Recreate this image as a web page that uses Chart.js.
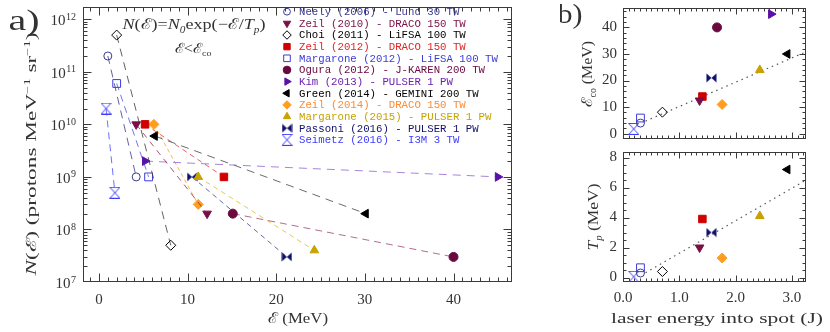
<!DOCTYPE html>
<html><head><meta charset="utf-8">
<script src="https://cdn.jsdelivr.net/npm/chart.js@4.4.1/dist/chart.umd.min.js"></script>
<style>
html,body{margin:0;padding:0;background:#fff;width:830px;height:332px;overflow:hidden}
canvas{position:absolute;display:block}
</style></head><body>
<canvas id="ca" width="530" height="332" style="left:0;top:0"></canvas>
<canvas id="cb1" width="270" height="145" style="left:560px;top:0"></canvas>
<canvas id="cb2" width="270" height="187" style="left:560px;top:145px"></canvas>
<script>
// ---------------- data ----------------
const seriesLabels = [
  'Neely (2006) - Lund 30 TW',
  'Zeil (2010) - DRACO 150 TW',
  'Choi (2011) - LiFSA 100 TW',
  'Zeil (2012) - DRACO 150 TW',
  'Margarone (2012) - LiFSA 100 TW',
  'Ogura (2012) - J-KAREN 200 TW',
  'Kim (2013) - PULSER 1 PW',
  'Green (2014) - GEMINI 200 TW',
  'Zeil (2014) - DRACO 150 TW',
  'Margarone (2015) - PULSER 1 PW',
  'Passoni (2016) - PULSER 1 PW',
  'Seimetz (2016) - I3M 3 TW'
];
const energyStart  = [1.0, 4.2, 2.0, 5.2, 2.0, 15.1, 5.2, 6.3, 6.2, 11.2, 10.5, 0.8];
const countStart   = [2e11, 1e10, 5e11, 1e10, 6e10, 2e8, 2e9, 6e9, 1e10, 1e9, 1e9, 2e10];
const energyEnd    = [4.2, 12.2, 8.1, 14.1, 5.6, 40, 45, 30.1, 11.2, 24.3, 21.2, 1.8];
const countEnd     = [1e9, 2e8, 5e7, 1e9, 1e9, 3e7, 1e9, 2e8, 3e8, 4e7, 3e7, 5e8];
const laserEnergy  = [0.31, 1.36, 0.70, 1.41, 0.31, 1.67, 2.63, 2.92, 1.76, 2.43, 1.57, 0.19];
const cutoffEnergy = [4.0, 12.5, 8.1, 14.0, 5.9, 40, 45, 30, 11, 24, 21, 1.8];
const protonTemp   = [0.3, 2.0, 0.4, 3.9, 0.65, null, null, 7.2, 1.3, 4.1, 3.0, 0.05];
const fitLaserE    = [0.4, 3.25];
const fitCutoff    = [4.75, 30.8];
const fitTemp      = [0.32, 6.5];
const xTicksA  = [0, 10, 20, 30, 40];
const yTicksA  = [1e7, 1e8, 1e9, 1e10, 1e11, 1e12];
const xTicksB  = [0, 1, 2, 3];
const yTicksB1 = [0, 10, 20, 30, 40];
const yTicksB2 = [0, 2, 4, 6, 8];

// ---------------- styles ----------------
const SERIF = '"Liberation Serif","DejaVu Serif",serif';
const MONO = '"Liberation Mono","DejaVu Sans Mono",monospace';
const INK = '#333333';
const markerColor = ['#3a3a8e','#7a0f45','#000000','#d00000','#3c3cdc','#6a0840','#5a10a8','#000000','#ff9e1e','#c8a200','#10106a','#3c3cff'];
const textColor   = ['#3a3a8e','#7a0f45','#000000','#e02424','#3c3cdc','#6a0840','#6a20b0','#000000','#ff8a30','#c8a200','#10106a','#3c3cff'];
const lineColor   = ['rgba(58,58,142,0.8)','rgba(122,15,69,0.7)','rgba(60,60,60,0.8)','rgba(220,30,30,0.7)','rgba(60,60,220,0.7)','rgba(150,60,110,0.75)','rgba(140,90,210,0.75)','rgba(70,70,70,0.8)','rgba(255,160,40,0.8)','rgba(220,190,40,0.8)','rgba(40,40,130,0.7)','rgba(60,60,255,0.75)'];
const lineDash = [[8,6],[6,5],[8,6],[5,4],[7,5],[7,5],[8,6],[8,6],[4,3],[5,4],[5,4],[7,5]];

function makeMarker(kind, color) {
  const c = document.createElement('canvas');
  const g = c.getContext('2d');
  if (kind === 'bowtie') {
    c.width = 11; c.height = 10;
    g.fillStyle = color;
    g.beginPath(); g.moveTo(0.5,0.5); g.lineTo(5.5,5); g.lineTo(0.5,9.5); g.closePath(); g.fill();
    g.beginPath(); g.moveTo(10.5,0.5); g.lineTo(5.5,5); g.lineTo(10.5,9.5); g.closePath(); g.fill();
  } else {
    c.width = 11; c.height = 12;
    g.strokeStyle = color; g.lineWidth = 1;
    g.beginPath(); g.moveTo(0.5,0.5); g.lineTo(10.5,0.5); g.lineTo(0.5,11.5); g.lineTo(10.5,11.5); g.closePath(); g.stroke();
  }
  return c;
}
const pStyle = ['circle','triangle','rectRot','rect','rect','circle','triangle','triangle','rectRot','triangle', makeMarker('bowtie', markerColor[10]), makeMarker('hourglass', markerColor[11])];
const pRot = [0,180,0,0,0,0,90,-90,0,0,0,0];
const pRad = [4,5,5,5.3,5.5,4.5,5,5,5,5,5,5];
const pFilled = [false,true,false,true,false,true,true,true,true,true,true,false];

// ---------------- helpers ----------------
function range(a, b, s) { const r = []; for (let v = a; v <= b + 1e-9; v += s) r.push(+v.toFixed(6)); return r; }
function logMinor(e0, e1) { const r = []; for (let e = e0; e <= e1; e++) for (let k = 2; k <= 9; k++) r.push(k * Math.pow(10, e)); return r; }

function drawFrame(chart, o) {
  const {ctx, chartArea: a} = chart;
  const xs = chart.scales.x, ys = chart.scales.y;
  const L = Math.round(a.left) + 0.5, R = Math.round(a.right) - 0.5, T = Math.round(a.top) + 0.5, B = Math.round(a.bottom) - 0.5;
  ctx.save();
  ctx.strokeStyle = '#3a3a3a'; ctx.lineWidth = 1;
  ctx.strokeRect(L, T, R - L, B - T);
  ctx.beginPath();
  const vt = (v, len) => { const p = Math.round(xs.getPixelForValue(v)) + 0.5; if (p <= L || p >= R) return; ctx.moveTo(p, B); ctx.lineTo(p, B - len); ctx.moveTo(p, T); ctx.lineTo(p, T + len); };
  const ht = (v, len) => { const p = Math.round(ys.getPixelForValue(v)) + 0.5; if (p <= T || p >= B) return; ctx.moveTo(L, p); ctx.lineTo(L + len, p); ctx.moveTo(R, p); ctx.lineTo(R - len, p); };
  o.xMinor.forEach(v => vt(v, o.min)); o.xMajor.forEach(v => vt(v, o.maj));
  o.yMinor.forEach(v => ht(v, o.min)); o.yMajor.forEach(v => ht(v, o.maj));
  ctx.stroke();
  ctx.restore();
}

// parts: [text, sizeFactor, style('i' or ''), dyFactor]; width -> horizontal stretch (keeps glyph height)
function richText(ctx, parts, cx, cy, opt) {
  ctx.save();
  ctx.translate(cx, cy);
  if (opt.rot) ctx.rotate(opt.rot);
  ctx.fillStyle = opt.color || INK;
  ctx.textBaseline = 'alphabetic'; ctx.textAlign = 'left';
  const fam = opt.family || SERIF;
  const size = opt.size;
  const fonts = parts.map(p => (p[2] === 'i' ? 'italic ' : '') + (size * (p[1] || 1)).toFixed(2) + 'px ' + fam);
  const widths = parts.map((p, i) => { ctx.font = fonts[i]; return ctx.measureText(p[0]).width; });
  const W = widths.reduce((s, w) => s + w, 0);
  if (opt.width) ctx.scale(opt.width / W, 1);
  let x = opt.align === 'left' ? 0 : (opt.align === 'right' ? -W : -W / 2);
  parts.forEach((p, i) => { ctx.font = fonts[i]; ctx.fillText(p[0], x, size * 0.33 + (p[3] || 0) * size); x += widths[i]; });
  ctx.restore();
}

function drawMarker(ctx, st, x, y, r, rot, fill, stroke) {
  ctx.save(); ctx.translate(x, y);
  if (typeof st !== 'string') { ctx.drawImage(st, -st.width / 2, -st.height / 2); ctx.restore(); return; }
  ctx.rotate((rot || 0) * Math.PI / 180);
  ctx.beginPath();
  if (st === 'circle') ctx.arc(0, 0, r, 0, 2 * Math.PI);
  else if (st === 'triangle') { for (let k = 0; k < 3; k++) { const a = k * 2 * Math.PI / 3; ctx.lineTo(Math.sin(a) * r, -Math.cos(a) * r); } ctx.closePath(); }
  else if (st === 'rect') { const s = r * Math.SQRT1_2; ctx.rect(-s, -s, 2 * s, 2 * s); }
  else if (st === 'rectRot') { ctx.moveTo(0, -r); ctx.lineTo(r, 0); ctx.lineTo(0, r); ctx.lineTo(-r, 0); ctx.closePath(); }
  ctx.fillStyle = fill; ctx.fill(); ctx.strokeStyle = stroke; ctx.lineWidth = 1; ctx.stroke();
  ctx.restore();
}

const commonOpts = {
  responsive: false, animation: false, events: [],
  plugins: { legend: { display: false }, tooltip: { enabled: false } }
};
function tickFont() { return { family: SERIF, size: 15 }; }

// ---------------- panel a ----------------
const datasetsA = seriesLabels.map((lab, i) => ({
  label: lab,
  data: [{x: energyStart[i], y: countStart[i]}, {x: energyEnd[i], y: countEnd[i]}],
  showLine: true,
  borderColor: lineColor[i], borderWidth: 1, borderDash: lineDash[i],
  pointStyle: pStyle[i], pointRotation: pRot[i], pointRadius: pRad[i],
  pointBackgroundColor: pFilled[i] ? markerColor[i] : 'rgba(255,255,255,0)',
  pointBorderColor: markerColor[i], pointBorderWidth: 1
}));

const decoA = {
  id: 'decoA',
  beforeDatasetsDraw(chart) {
    drawFrame(chart, {xMajor: xTicksA, xMinor: range(-1, 46, 1), yMajor: yTicksA, yMinor: logMinor(7, 12), maj: 8, min: 4});
  },
  afterDraw(chart) {
    const ctx = chart.ctx, ys = chart.scales.y;
    // y tick labels 10^n
    ctx.save();
    ctx.fillStyle = INK; ctx.textBaseline = 'alphabetic';
    yTicksA.forEach(v => {
      const p = ys.getPixelForValue(v);
      const ex = String(Math.round(Math.log10(v)));
      ctx.font = '10px ' + SERIF; const ew = ctx.measureText(ex).width;
      ctx.textAlign = 'left'; ctx.fillText(ex, 76 - ew, p + 0.5);
      ctx.font = '15px ' + SERIF; ctx.textAlign = 'right'; ctx.fillText('10', 76 - ew - 0.5, p + 6);
    });
    ctx.restore();
    // titles
    richText(ctx, [['N',1,'i'],['(\u2130) (protons MeV',1,''],['\u22121',0.62,'',-0.42],[' sr',1,''],['\u22121',0.62,'',-0.42],[')',1,'']], 31, 154, {size: 14, width: 243, rot: -Math.PI / 2});
    richText(ctx, [['\u2130',1,''],[' (MeV)',1,'']], 298, 318, {size: 15, width: 60});
    richText(ctx, [['a)',1,'']], 24, 20, {size: 29, width: 31});
    // annotation
    richText(ctx, [['N',1,'i'],['(\u2130)=',1,''],['N',1,'i'],['0',0.62,'i',0.25],['exp(\u2212\u2130/',1,''],['T',1,'i'],['p',0.62,'i',0.25],[')',1,'']], 194, 24, {size: 15, width: 143});
    richText(ctx, [['\u2130<\u2130',1,''],['co',0.62,'',0.25]], 193, 48, {size: 14, width: 37});
    // legend
    ctx.save();
    ctx.font = '10.7px ' + MONO; ctx.textBaseline = 'middle'; ctx.textAlign = 'left';
    seriesLabels.forEach((lab, i) => {
      const y = 11.7 + i * 11.65;
      drawMarker(ctx, pStyle[i], 287, y, pRad[i] * 0.85, pRot[i], pFilled[i] ? markerColor[i] : 'rgba(255,255,255,0)', markerColor[i]);
      ctx.fillStyle = textColor[i];
      ctx.fillText(lab, 299, y + 0.5);
    });
    ctx.restore();
  }
};

new Chart(document.getElementById('ca'), {
  type: 'scatter',
  data: { datasets: datasetsA },
  options: Object.assign({}, commonOpts, {
    layout: { padding: { left: 0, top: 3, right: 18, bottom: 0 } },
    scales: {
      x: { type: 'linear', min: -1.8, max: 46.6,
        grid: { display: false, drawTicks: false }, border: { display: false },
        ticks: { font: tickFont(), color: INK, padding: 9, maxRotation: 0, callback: v => String(v) },
        afterBuildTicks: s => { s.ticks = xTicksA.map(v => ({value: v})); },
        afterFit: s => { s.height = 50; s.paddingLeft = 0; s.paddingRight = 0; } },
      y: { type: 'logarithmic', min: 1e7, max: 1.75e12,
        grid: { display: false, drawTicks: false }, border: { display: false },
        ticks: { display: false },
        afterBuildTicks: s => { s.ticks = yTicksA.map(v => ({value: v})); },
        afterFit: s => { s.width = 83; s.paddingTop = 0; s.paddingBottom = 0; } }
    }
  }),
  plugins: [decoA]
});

// ---------------- panel b ----------------
function datasetsB(yvals, fitY) {
  const ds = seriesLabels.map((lab, i) => ({
    label: lab,
    data: yvals[i] === null ? [] : [{x: laserEnergy[i], y: yvals[i]}],
    showLine: false,
    pointStyle: pStyle[i], pointRotation: pRot[i], pointRadius: pRad[i],
    pointBackgroundColor: pFilled[i] ? markerColor[i] : 'rgba(255,255,255,0)',
    pointBorderColor: markerColor[i], pointBorderWidth: 1
  }));
  ds.push({ label: 'fit', data: fitLaserE.map((x, k) => ({x, y: fitY[k]})), showLine: true,
    borderColor: '#555555', borderWidth: 1.2, borderDash: [1.5, 4], pointRadius: 0 });
  return ds;
}
function scalesB(ymin, ymax, yticks, showX) {
  return {
    x: { type: 'linear', min: 0, max: 3.25, display: showX,
      grid: { display: false, drawTicks: false }, border: { display: false },
      ticks: { font: tickFont(), color: INK, padding: 7, maxRotation: 0, callback: v => Number(v).toFixed(1) },
      afterBuildTicks: s => { s.ticks = xTicksB.map(v => ({value: v})); },
      afterFit: s => { s.height = showX ? 50 : 0; s.paddingLeft = 0; s.paddingRight = 0; } },
    y: { type: 'linear', min: ymin, max: ymax,
      grid: { display: false, drawTicks: false }, border: { display: false },
      ticks: { font: tickFont(), color: INK, padding: 6, callback: v => String(v) },
      afterBuildTicks: s => { s.ticks = yticks.map(v => ({value: v})); },
      afterFit: s => { s.width = 63; s.paddingTop = 0; s.paddingBottom = 0; } }
  };
}

const decoB1 = {
  id: 'decoB1',
  beforeDatasetsDraw(chart) {
    drawFrame(chart, {xMajor: xTicksB, xMinor: range(0, 3.2, 0.1), yMajor: yTicksB1, yMinor: range(0, 46, 2), maj: 6, min: 3});
  },
  afterDraw(chart) {
    const ctx = chart.ctx;
    richText(ctx, [['\u2130',1,''],['co',0.62,'',0.25],[' (MeV)',1,'']], 27, 74, {size: 15, width: 66, rot: -Math.PI / 2});
    richText(ctx, [['b)',1,'']], 10, 14, {size: 28, width: 25});
  }
};
const decoB2 = {
  id: 'decoB2',
  beforeDatasetsDraw(chart) {
    drawFrame(chart, {xMajor: xTicksB, xMinor: range(0, 3.2, 0.1), yMajor: yTicksB2, yMinor: range(0, 8, 0.5), maj: 6, min: 3});
  },
  afterDraw(chart) {
    const ctx = chart.ctx;
    richText(ctx, [['T',1,'i'],['p',0.62,'i',0.25],[' (MeV)',1,'']], 33, 72, {size: 15, width: 67, rot: -Math.PI / 2});
    richText(ctx, [['laser energy into spot (J)',1,'']], 157, 173, {size: 15, width: 212});
  }
};

new Chart(document.getElementById('cb1'), {
  type: 'scatter',
  data: { datasets: datasetsB(cutoffEnergy, fitCutoff) },
  options: Object.assign({}, commonOpts, {
    layout: { padding: { left: 0, top: 8, right: 24, bottom: 3 } },
    scales: scalesB(-1.8, 47.3, yTicksB1, false)
  }),
  plugins: [decoB1]
});
new Chart(document.getElementById('cb2'), {
  type: 'scatter',
  data: { datasets: datasetsB(protonTemp, fitTemp) },
  options: Object.assign({}, commonOpts, {
    layout: { padding: { left: 0, top: 3, right: 24, bottom: 0 } },
    scales: scalesB(-0.3, 8.4, yTicksB2, true)
  }),
  plugins: [decoB2]
});
</script>
</body></html>
